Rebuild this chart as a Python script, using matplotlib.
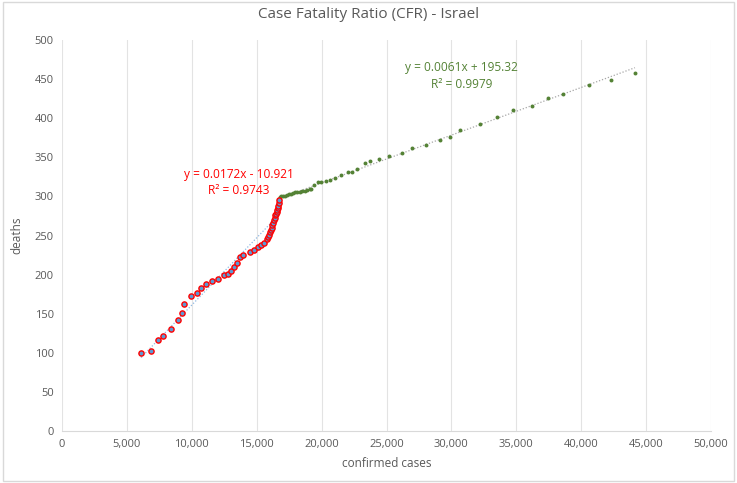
import matplotlib.pyplot as plt
from matplotlib.patches import Rectangle
import numpy as np

plt.rcParams['font.family'] = ['Open Sans', 'DejaVu Sans']

# early phase (red series)
cases_a = [6090, 6860, 7400, 7810, 8400, 8910, 9250, 9430, 9910, 10380,
           10710, 11120, 11560, 12000, 12460, 12770, 13000, 13250, 13480, 13740,
           13950, 14510, 14790, 15080, 15330, 15540, 15790, 15880, 15950, 16030,
           16100, 16150, 16200, 16270, 16330, 16380, 16430, 16490, 16540, 16580,
           16620, 16660, 16690, 16740]
deaths_a = [100, 102, 116, 122, 130, 142, 151, 163, 172, 177,
            183, 188, 192, 194, 199, 201, 204, 210, 215, 222,
            225, 229, 232, 235, 238, 240, 245, 248, 251, 254,
            257, 260, 263, 266, 270, 273, 276, 278, 280, 283,
            285, 288, 291, 295]

# later phase (green series)
cases_b = [16740, 16800, 16900, 17050, 17200, 17350, 17500, 17650, 17800, 17950,
           18100, 18300, 18500, 18700, 18900, 19100, 19200, 19440, 19750, 19950,
           20340, 20650, 21030, 21490, 22010, 22370, 22730, 23370, 23730, 24420,
           25220, 26220, 26990, 28020, 29120, 29920, 30690, 32200, 33490, 34770,
           36230, 37420, 38620, 40570, 42290, 44140]
deaths_b = [297, 299, 300, 301, 301, 302, 303, 303, 304, 305,
            305, 306, 307, 307, 308, 309, 310, 315, 318, 318,
            320, 321, 324, 327, 331, 331, 335, 343, 345, 348,
            352, 355, 362, 366, 372, 376, 385, 393, 402, 410,
            416, 426, 431, 443, 449, 458]

# trendline coefficients as shown on the chart
slope_a, icpt_a, r2_a = 0.0172, -10.921, 0.9743
slope_b, icpt_b, r2_b = 0.0061, 195.32, 0.9979

grey = '#595959'

fig = plt.figure(figsize=(7.37, 4.83), dpi=100)
fig.patches.append(Rectangle((0.004, 0.004), 0.992, 0.992, transform=fig.transFigure,
                             fill=False, edgecolor='#D9D9D9', linewidth=1))
ax = fig.add_axes([62/737, 1 - 431/483, (711-62)/737, (431-40)/483])

ax.set_xlim(0, 50000)
ax.set_ylim(0, 500)
ax.set_xticks(np.arange(0, 50001, 5000))
ax.set_yticks(np.arange(0, 501, 50))
ax.xaxis.set_major_formatter(plt.FuncFormatter(lambda v, p: f'{int(v):,}'))
ax.grid(axis='x', color='#E3E3E3', linewidth=0.8)
ax.set_axisbelow(True)
for s in ['top', 'right', 'left']:
    ax.spines[s].set_visible(False)
ax.spines['bottom'].set_color('#D9D9D9')
ax.tick_params(length=0, colors=grey, labelsize=8, pad=6)

# trendlines
xa = np.array([min(cases_a), max(cases_a)])
xb = np.array([min(cases_b), max(cases_b)])
ax.plot(xa, slope_a * xa + icpt_a, ls=(0, (1, 1.5)), color='#8FB9E3', lw=0.9, zorder=2)
ax.plot(xb, slope_b * xb + icpt_b, ls=(0, (1, 1.5)), color='#A6A6A6', lw=0.9, zorder=2)

ax.scatter(cases_b, deaths_b, s=8, color='#548235', zorder=3, linewidths=0)
ax.scatter(cases_a, deaths_a, s=14, facecolor='#5B9BD5', edgecolor='#FF0000',
           linewidths=1.0, zorder=4)

ax.text(13650, 318, f'y = {slope_a}x - {abs(icpt_a)}\nR² = {r2_a}', color='#FF0000',
        ha='center', va='center', fontsize=8.6, linespacing=1.35)
ax.text(30800, 454, f'y = {slope_b}x + {icpt_b}\nR² = {r2_b}', color='#548235',
        ha='center', va='center', fontsize=8.6, linespacing=1.35)

ax.set_xlabel('confirmed cases', color=grey, fontsize=8.5, labelpad=5)
ax.set_ylabel('deaths', color=grey, fontsize=8.5, labelpad=8)
fig.suptitle('Case Fatality Ratio (CFR) - Israel', color=grey, fontsize=11, y=0.985)

fig.savefig('out.png', dpi=100)
